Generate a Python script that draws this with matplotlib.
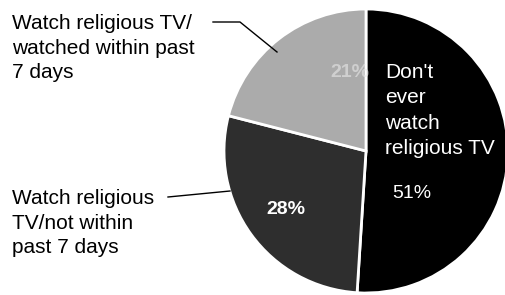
import matplotlib.pyplot as plt

# Data
labels = ["Don't\never\nwatch\nreligious TV",
          "Watch religious\nTV/not within\npast 7 days",
          "Watch religious TV/\nwatched within past\n7 days"]
values = [51, 28, 21]
pct_labels = ["51%", "28%", "21%"]
colors = ["#000000", "#2e2e2e", "#ababab"]

plt.rcParams['font.family'] = ['Liberation Sans', 'DejaVu Sans']

fig = plt.figure(figsize=(5.06, 2.95), dpi=100)
ax = fig.add_axes([0, 0, 1, 1])

# pie in pixel-like coordinates (y up)
cx, cy, r = 366, 144, 142
wedges, _ = ax.pie(values, colors=colors, startangle=90, counterclock=False,
                   center=(cx, cy), radius=r, frame=True,
                   wedgeprops=dict(edgecolor="white", linewidth=2))
ax.set_xlim(0, 506)
ax.set_ylim(0, 295)
ax.set_aspect("equal")
ax.axis("off")

# percentages
ax.text(412, 101, pct_labels[0], color="white", fontsize=14, ha="center", va="center")
ax.text(286, 86, pct_labels[1], color="white", fontsize=14, ha="center", va="center",
        fontweight="bold")
ax.text(350, 223, pct_labels[2], color="#e8e8e8", fontsize=14, ha="center", va="center",
        fontweight="bold", alpha=0.6)

# label inside black slice
ax.text(385, 232, labels[0], color="white", fontsize=15, ha="left", va="top",
        linespacing=1.42)

# left labels with leader lines
ax.text(12, 281, labels[2], color="black", fontsize=15, ha="left", va="top",
        linespacing=1.38)
ax.plot([213, 240, 277], [273, 273, 243], color="black", lw=1)

ax.text(12, 106, labels[1], color="black", fontsize=15, ha="left", va="top",
        linespacing=1.38)
ax.plot([168, 230], [98, 104], color="black", lw=1)

fig.savefig("out.png", dpi=100)
